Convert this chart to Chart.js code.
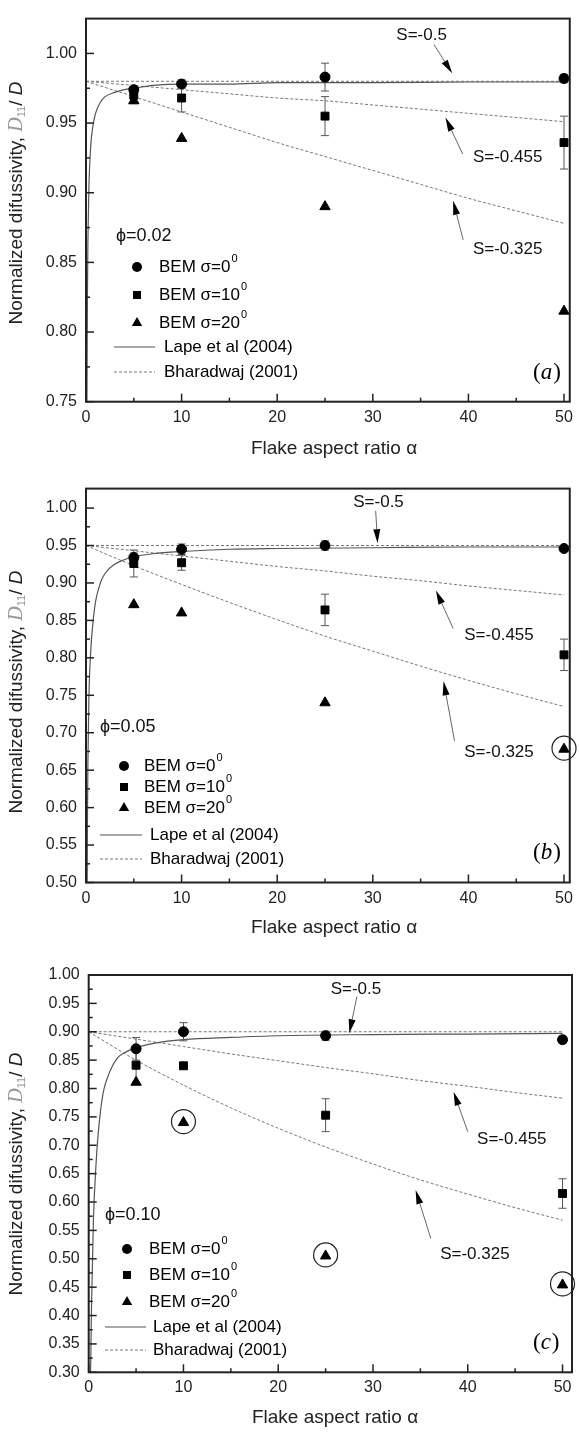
<!DOCTYPE html>
<html>
<head>
<meta charset="utf-8">
<script src="https://cdn.jsdelivr.net/npm/chart.js@4.4.0/dist/chart.umd.min.js"></script>
<style>
  body { margin: 0; background: #fff; width: 579px; height: 1432px; overflow: hidden; position: relative; }
  canvas { position: absolute; left: 0; }
</style>
</head>
<body>
<canvas id="chartA" width="579" height="470" style="top:0"></canvas>
<canvas id="chartB" width="579" height="470" style="top:470px"></canvas>
<canvas id="chartC" width="579" height="492" style="top:940px"></canvas>
<script>
// aspect ratios where BEM was computed
const alpha = [5, 10, 25, 50];
const xTicks = [0, 10, 20, 30, 40, 50];
const yTicksA = [0.75, 0.80, 0.85, 0.90, 0.95, 1.00];
const yTicksB = [0.50, 0.55, 0.60, 0.65, 0.70, 0.75, 0.80, 0.85, 0.90, 0.95, 1.00];
const yTicksC = [0.30, 0.35, 0.40, 0.45, 0.50, 0.55, 0.60, 0.65, 0.70, 0.75, 0.80, 0.85, 0.90, 0.95, 1.00];

// phi = 0.02
const bemA0 = [0.974, 0.978, 0.983, 0.982];
const bemA0err = [0.002, 0.003, 0.010, 0.003];
const bemA10 = [0.970, 0.968, 0.955, 0.936];
const bemA10err = [0.006, 0.010, 0.014, 0.019];
const bemA20 = [0.966, 0.939, 0.890, 0.815];
// phi = 0.05
const bemB0 = [0.934, 0.945, 0.950, 0.946];
const bemB0err = [0.006, 0.007, 0.006, 0.003];
const bemB10 = [0.926, 0.927, 0.864, 0.804];
const bemB10err = [0.018, 0.010, 0.021, 0.021];
const bemB20 = [0.871, 0.860, 0.740, 0.678];
// phi = 0.10
const bemC0 = [0.870, 0.900, 0.893, 0.886];
const bemC0err = [0.020, 0.016, 0.008, 0.006];
const bemC10 = [0.841, 0.840, 0.753, 0.615];
const bemC10err = [0.030, 0, 0.029, 0.026];
const bemC20 = [0.811, 0.740, 0.505, 0.454];

// Lape et al (2004) curve
const lapeAlpha = [0.08, 0.1, 0.15, 0.2, 0.3, 0.5, 0.75, 1, 1.5, 2, 3, 4, 5, 7, 10, 15, 20, 30, 40, 50];
const lapeA = [0.690, 0.750, 0.827, 0.865, 0.903, 0.934, 0.949, 0.957, 0.965, 0.969, 0.972, 0.974, 0.975, 0.977, 0.978, 0.978, 0.979, 0.979, 0.9795, 0.9795];
const lapeB = [0.300, 0.420, 0.580, 0.660, 0.745, 0.810, 0.850, 0.875, 0.900, 0.913, 0.925, 0.931, 0.935, 0.939, 0.942, 0.945, 0.946, 0.947, 0.948, 0.948];
const lapeC = [0.000, 0.100, 0.220, 0.300, 0.420, 0.570, 0.660, 0.720, 0.790, 0.820, 0.853, 0.865, 0.872, 0.880, 0.886, 0.890, 0.893, 0.895, 0.896, 0.897];

// Bharadwaj (2001) curves for S = -0.5, -0.455, -0.325
const bharAlpha = [0, 5, 10, 15, 20, 25, 30, 35, 40, 45, 50];
const bharA500 = [0.980, 0.980, 0.980, 0.980, 0.980, 0.980, 0.980, 0.980, 0.980, 0.980, 0.980];
const bharA455 = [0.980, 0.977, 0.974, 0.971, 0.968, 0.966, 0.963, 0.960, 0.957, 0.954, 0.951];
const bharA325 = [0.980, 0.969, 0.958, 0.947, 0.936, 0.926, 0.916, 0.906, 0.896, 0.887, 0.878];
const bharB500 = [0.950, 0.950, 0.950, 0.950, 0.950, 0.950, 0.950, 0.950, 0.950, 0.950, 0.950];
const bharB455 = [0.950, 0.943, 0.936, 0.929, 0.922, 0.916, 0.909, 0.903, 0.896, 0.890, 0.884];
const bharB325 = [0.950, 0.923, 0.898, 0.874, 0.851, 0.829, 0.809, 0.789, 0.770, 0.752, 0.735];
const bharC500 = [0.900, 0.900, 0.900, 0.900, 0.900, 0.900, 0.900, 0.900, 0.900, 0.900, 0.900];
const bharC455 = [0.900, 0.887, 0.874, 0.861, 0.849, 0.837, 0.826, 0.814, 0.804, 0.793, 0.783];
const bharC325 = [0.900, 0.850, 0.806, 0.766, 0.730, 0.697, 0.667, 0.639, 0.614, 0.590, 0.568];

const SANS = "'Liberation Sans', Arial, sans-serif";
Chart.defaults.font.family = SANS;
Chart.defaults.color = '#222';

const zip = (xs, ys) => xs.map((x, i) => ({ x: x, y: ys[i] }));

function line(ctx, x1, y1, x2, y2) {
  ctx.beginPath(); ctx.moveTo(x1, y1); ctx.lineTo(x2, y2); ctx.stroke();
}

function arrow(ctx, x1, y1, x2, y2) {
  const ang = Math.atan2(y2 - y1, x2 - x1), L = 14, W = 3.5;
  const bx = x2 - L * Math.cos(ang), by = y2 - L * Math.sin(ang);
  ctx.strokeStyle = '#666'; ctx.lineWidth = 1;
  line(ctx, x1, y1, bx, by);
  ctx.fillStyle = '#000';
  ctx.beginPath();
  ctx.moveTo(x2, y2);
  ctx.lineTo(bx + W * Math.sin(ang), by - W * Math.cos(ang));
  ctx.lineTo(bx - W * Math.sin(ang), by + W * Math.cos(ang));
  ctx.closePath(); ctx.fill();
}

function marker(ctx, kind, x, y) {
  ctx.fillStyle = '#000';
  ctx.beginPath();
  if (kind === 'circle') ctx.arc(x, y, 5, 0, Math.PI * 2);
  else if (kind === 'rect') ctx.rect(x - 4, y - 4, 8, 8);
  else { ctx.moveTo(x, y - 6); ctx.lineTo(x + 5.2, y + 3); ctx.lineTo(x - 5.2, y + 3); ctx.closePath(); }
  ctx.fill();
}

function decor(cfg) {
  return {
    id: 'decor',
    beforeDatasetsDraw(chart) {
      const { ctx, scales: { x, y } } = chart;
      ctx.save();
      ctx.strokeStyle = '#555'; ctx.lineWidth = 1;
      [[cfg.b0, cfg.b0err], [cfg.b10, cfg.b10err]].forEach(([vals, errs]) => {
        vals.forEach((v, i) => {
          if (!errs[i]) return;
          const px = x.getPixelForValue(alpha[i]);
          const t = y.getPixelForValue(v + errs[i]), b = y.getPixelForValue(v - errs[i]);
          line(ctx, px, t, px, b);
          line(ctx, px - 4, t, px + 4, t);
          line(ctx, px - 4, b, px + 4, b);
        });
      });
      ctx.restore();
    },
    afterDraw(chart) {
      const { ctx, chartArea: ca, scales: { x, y } } = chart;
      ctx.save();
      // frame
      ctx.strokeStyle = '#222'; ctx.lineWidth = 2;
      ctx.strokeRect(ca.left, ca.top, ca.right - ca.left, ca.bottom - ca.top);
      // inward ticks
      ctx.lineWidth = 1.5;
      for (let v = 0; v <= 50; v += 5) {
        const px = x.getPixelForValue(v);
        line(ctx, px, ca.bottom, px, ca.bottom - (v % 10 === 0 ? 8 : 4));
      }
      const yt = cfg.yTicks;
      for (let i = 0; i < yt.length; i++) {
        const py = y.getPixelForValue(yt[i]);
        line(ctx, ca.left, py, ca.left + 8, py);
        if (i < yt.length - 1) {
          const pm = y.getPixelForValue((yt[i] + yt[i + 1]) / 2);
          line(ctx, ca.left, pm, ca.left + 4, pm);
        }
      }
      // circled points
      ctx.strokeStyle = '#222'; ctx.lineWidth = 1.2;
      cfg.circled.forEach(i => {
        ctx.beginPath();
        ctx.arc(x.getPixelForValue(alpha[i]), y.getPixelForValue(cfg.b20[i]) - 1, 12, 0, Math.PI * 2);
        ctx.stroke();
      });
      // arrows and their labels
      cfg.notes.forEach(n => {
        arrow(ctx, x.getPixelForValue(n.from[0]), y.getPixelForValue(n.from[1]),
          x.getPixelForValue(n.to[0]), y.getPixelForValue(n.to[1]));
        ctx.fillStyle = '#111'; ctx.font = '17px ' + SANS;
        ctx.textAlign = 'center'; ctx.textBaseline = 'middle';
        ctx.fillText(n.text, x.getPixelForValue(n.at[0]), y.getPixelForValue(n.at[1]));
      });
      // phi label
      ctx.textAlign = 'left'; ctx.fillStyle = '#111'; ctx.font = '18px ' + SANS;
      ctx.fillText(cfg.phi, cfg.phiPos[0], cfg.phiPos[1]);
      // legend
      const L = cfg.legend;
      ctx.font = '17px ' + SANS;
      [['circle', '0'], ['rect', '10'], ['triangle', '20']].forEach(([k, deg], i) => {
        marker(ctx, k, L.mx, L.rows[i]);
        ctx.font = '17px ' + SANS;
        const s = 'BEM σ=' + deg;
        ctx.fillText(s, L.tx, L.rows[i]);
        const w = ctx.measureText(s).width;
        ctx.font = '11px ' + SANS;
        ctx.fillText('0', L.tx + w + 1, L.rows[i] - 8);
      });
      ctx.strokeStyle = '#555'; ctx.lineWidth = 1.2;
      line(ctx, L.lx[0], L.rows[3], L.lx[1], L.rows[3]);
      ctx.setLineDash([3, 2]); ctx.strokeStyle = '#777'; ctx.lineWidth = 1;
      line(ctx, L.lx[0], L.rows[4], L.lx[1], L.rows[4]);
      ctx.setLineDash([]);
      ctx.font = '17px ' + SANS;
      ctx.fillText('Lape et al (2004)', L.lt, L.rows[3]);
      ctx.fillText('Bharadwaj (2001)', L.lt, L.rows[4]);
      // panel tag "(a)"
      let tx = cfg.tag[0];
      ctx.font = "23px 'Liberation Serif', serif";
      ctx.fillText('(', tx, cfg.tag[1]); tx += ctx.measureText('(').width;
      ctx.font = "italic 23px 'Liberation Serif', serif";
      ctx.fillText(cfg.tagLetter, tx, cfg.tag[1]); tx += ctx.measureText(cfg.tagLetter).width + 1;
      ctx.font = "23px 'Liberation Serif', serif";
      ctx.fillText(')', tx, cfg.tag[1]);
      // axis titles
      ctx.fillStyle = '#222'; ctx.textAlign = 'center'; ctx.font = '19px ' + SANS;
      ctx.fillText('Flake aspect ratio α', cfg.xTitle[0], cfg.xTitle[1]);
      ctx.translate(cfg.yTitle[0], cfg.yTitle[1]);
      ctx.rotate(-Math.PI / 2);
      ctx.textAlign = 'left';
      const parts = [
        ['Normalized difussivity, ', '19px ' + SANS, '#222', 0],
        ['D', "italic 20px 'Liberation Serif', serif", '#999', 0],
        ['11', '11px ' + SANS, '#999', 5],
        ['/ ', '19px ' + SANS, '#222', 0],
        ['D', 'italic 19px ' + SANS, '#222', 0]
      ];
      let total = 0;
      parts.forEach(p => { ctx.font = p[1]; total += ctx.measureText(p[0]).width; });
      let px = -total / 2;
      parts.forEach(p => {
        ctx.font = p[1]; ctx.fillStyle = p[2];
        ctx.fillText(p[0], px, p[3]);
        px += ctx.measureText(p[0]).width;
      });
      ctx.restore();
    }
  };
}

function makePanel(id, cfg) {
  const lineSet = (data, dash, color, width) => ({
    data: data, showLine: true, pointRadius: 0, borderColor: color, borderWidth: width,
    borderDash: dash, backgroundColor: color, cubicInterpolationMode: 'monotone'
  });
  return new Chart(document.getElementById(id), {
    type: 'scatter',
    data: {
      datasets: [
        { data: zip(alpha, cfg.b0), pointStyle: 'circle', pointRadius: 5, backgroundColor: '#000', borderColor: '#000' },
        { data: zip(alpha, cfg.b10), pointStyle: 'rect', pointRadius: 5.6, backgroundColor: '#000', borderColor: '#000' },
        { data: zip(alpha, cfg.b20), pointStyle: 'triangle', pointRadius: 6, backgroundColor: '#000', borderColor: '#000' },
        lineSet(zip(lapeAlpha, cfg.lape), [], '#555', 1.2),
        lineSet(zip(bharAlpha, cfg.s500), [3, 2], '#777', 1),
        lineSet(zip(bharAlpha, cfg.s455), [3, 2], '#777', 1),
        lineSet(zip(bharAlpha, cfg.s325), [3, 2], '#777', 1)
      ]
    },
    options: {
      responsive: false,
      animation: false,
      devicePixelRatio: 1,
      layout: { padding: { top: cfg.padTop, right: cfg.padRight, left: 0, bottom: 0 } },
      plugins: { legend: { display: false }, tooltip: { enabled: false } },
      scales: {
        x: {
          type: 'linear', min: 0, max: cfg.xMax,
          afterFit(s) { s.height = cfg.xAxisH; },
          afterBuildTicks(s) { s.ticks = xTicks.map(v => ({ value: v })); },
          grid: { display: false, drawTicks: false }, border: { display: false },
          ticks: { padding: 6, font: { size: 16 }, maxRotation: 0, autoSkip: false, callback: v => String(v) }
        },
        y: {
          type: 'linear', min: cfg.yTicks[0], max: cfg.yMax,
          afterFit(s) { s.width = cfg.yAxisW; },
          afterBuildTicks(s) { s.ticks = cfg.yTicks.map(v => ({ value: v })); },
          grid: { display: false, drawTicks: false }, border: { display: false },
          ticks: { padding: 9, font: { size: 16 }, autoSkip: false, callback: v => v.toFixed(2) }
        }
      }
    },
    plugins: [decor(cfg)]
  });
}

makePanel('chartA', {
  b0: bemA0, b0err: bemA0err, b10: bemA10, b10err: bemA10err, b20: bemA20,
  lape: lapeA, s500: bharA500, s455: bharA455, s325: bharA325,
  yTicks: yTicksA, yMax: 1.025, xMax: 50.6,
  padTop: 3.5, padRight: 0.5, xAxisH: 68.3, yAxisW: 86,
  circled: [],
  notes: [
    { text: 'S=-0.5', at: [35.1, 1.0133], from: [36.4, 1.0064], to: [38.3, 0.9857] },
    { text: 'S=-0.455', at: [44.1, 0.9257], from: [39.4, 0.9278], to: [37.6, 0.9540] },
    { text: 'S=-0.325', at: [44.1, 0.8595], from: [39.45, 0.8662], to: [38.4, 0.8942] }
  ],
  phi: 'ϕ=0.02', phiPos: [116, 236],
  legend: { mx: 137, tx: 159, rows: [267, 295, 323, 347, 372], lx: [114, 155], lt: 164 },
  tag: [533, 373], tagLetter: 'a',
  xTitle: [334, 449], yTitle: [17, 203]
});

makePanel('chartB', {
  b0: bemB0, b0err: bemB0err, b10: bemB10, b10err: bemB10err, b20: bemB20,
  lape: lapeB, s500: bharB500, s455: bharB455, s325: bharB325,
  yTicks: yTicksB, yMax: 1.026, xMax: 50.6,
  padTop: 16, padRight: 4, xAxisH: 57.5, yAxisW: 86,
  circled: [3],
  notes: [
    { text: 'S=-0.5', at: [30.6, 1.0073], from: [30.3, 0.9963], to: [30.5, 0.953] },
    { text: 'S=-0.455', at: [43.2, 0.8296], from: [38.4, 0.8393], to: [36.6, 0.890] },
    { text: 'S=-0.325', at: [43.2, 0.6735], from: [38.55, 0.689], to: [37.4, 0.7686] }
  ],
  phi: 'ϕ=0.05', phiPos: [100, 257],
  legend: { mx: 124, tx: 144, rows: [296, 317, 338, 365, 389], lx: [100, 142], lt: 150 },
  tag: [533, 383], tagLetter: 'b',
  xTitle: [334, 458], yTitle: [17, 222]
});

makePanel('chartC', {
  b0: bemC0, b0err: bemC0err, b10: bemC10, b10err: bemC10err, b20: bemC20,
  lape: lapeC, s500: bharC500, s455: bharC455, s325: bharC325,
  yTicks: yTicksC, yMax: 1.0, xMax: 51,
  padTop: 35, padRight: 7, xAxisH: 59.7, yAxisW: 88.7,
  circled: [1, 2, 3],
  notes: [
    { text: 'S=-0.5', at: [28.2, 0.975], from: [28.3, 0.9618], to: [27.5, 0.8973] },
    { text: 'S=-0.455', at: [44.65, 0.711], from: [40.0, 0.724], to: [38.5, 0.7944] },
    { text: 'S=-0.325', at: [40.75, 0.5085], from: [36.1, 0.536], to: [34.5, 0.621] }
  ],
  phi: 'ϕ=0.10', phiPos: [105, 275],
  legend: { mx: 127, tx: 149, rows: [309, 335, 362, 387, 410], lx: [105, 146], lt: 153 },
  tag: [533, 403], tagLetter: 'c',
  xTitle: [335, 478], yTitle: [17, 234]
});
</script>
</body>
</html>
